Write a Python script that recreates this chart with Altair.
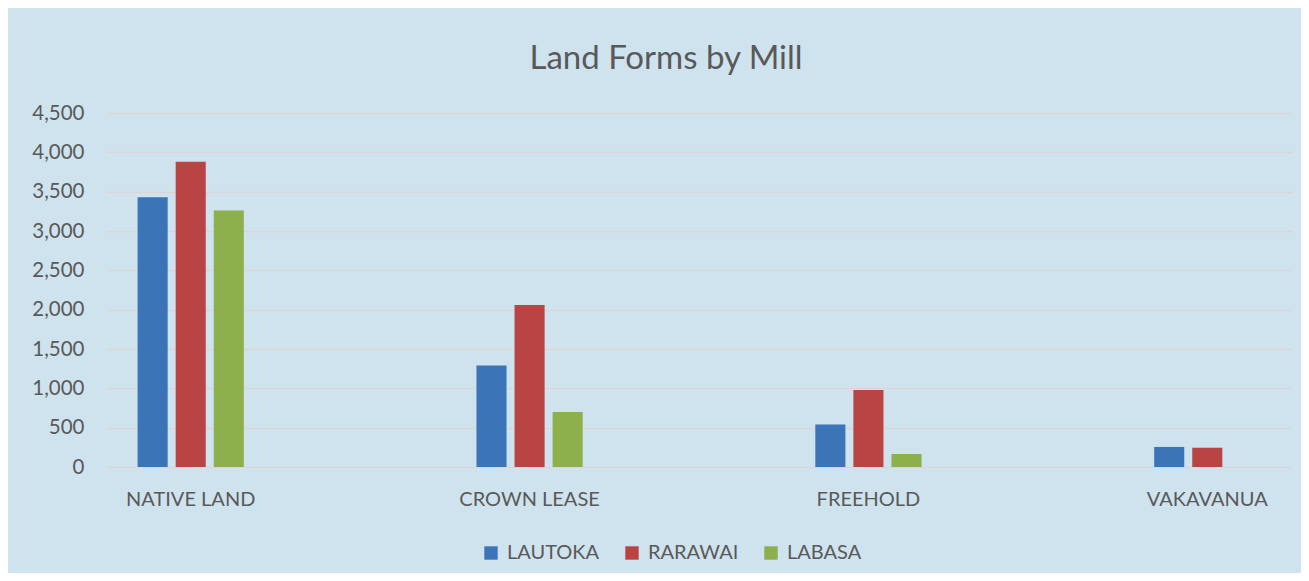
import altair as alt
import pandas as pd

categories = ["NATIVE LAND", "CROWN LEASE", "FREEHOLD", "VAKAVANUA"]
mills = ["LAUTOKA", "RARAWAI", "LABASA"]
lautoka = [3430, 1290, 540, 255]
rarawai = [3880, 2060, 980, 245]
labasa = [3260, 700, 165, None]
colors = ["#3B74B7", "#B84444", "#8DAF4C"]
y_ticks = [0, 500, 1000, 1500, 2000, 2500, 3000, 3500, 4000, 4500]

rows = []
for mill, vals in zip(mills, [lautoka, rarawai, labasa]):
    for cat, v in zip(categories, vals):
        if v is not None:
            rows.append({"category": cat, "mill": mill, "value": v})
df = pd.DataFrame(rows)

FONT = "Lato"
GREY = "#595959"
BG = "#CFE3EE"

chart = alt.Chart(df).mark_bar().encode(
    x=alt.X("category:N", sort=categories, title=None,
            scale=alt.Scale(paddingInner=0.5, paddingOuter=0),
            axis=alt.Axis(labelAngle=0, ticks=False, domain=False, labelPadding=22,
                          labelFontSize=20, labelColor=GREY, labelFont=FONT, grid=False)),
    xOffset=alt.XOffset("mill:N", sort=mills,
                        scale=alt.Scale(domain=mills, paddingInner=0.21, paddingOuter=0.83)),
    y=alt.Y("value:Q", title=None,
            scale=alt.Scale(domain=[0, 4500], nice=False),
            axis=alt.Axis(values=y_ticks, format=",d", ticks=False, domain=False,
                          labelPadding=22, labelFontSize=20.5, labelColor=GREY, labelFont=FONT,
                          gridColor="#DAD6D6", gridWidth=1.5)),
    color=alt.Color("mill:N", sort=mills,
                    scale=alt.Scale(domain=mills, range=colors),
                    legend=alt.Legend(title=None, orient="none", direction="horizontal",
                                      legendX=375, legendY=430, symbolType="square",
                                      symbolSize=180, symbolStrokeWidth=0, labelFontSize=20,
                                      labelColor=GREY, labelFont=FONT, labelOffset=6,
                                      columnPadding=22)),
).properties(
    width=1186,
    height=354,
    title=alt.TitleParams("Land Forms by Mill", fontSize=33, font=FONT, fontWeight="normal",
                          color=GREY, anchor="middle", dx=-33, offset=27),
    background=BG,
    padding={"left": 98, "top": 105, "right": 9, "bottom": 106},
    autosize=alt.AutoSizeParams(type="none"),
).configure_view(stroke=None)

chart.save("out.html", embed_options={"renderer": "svg", "actions": False})
